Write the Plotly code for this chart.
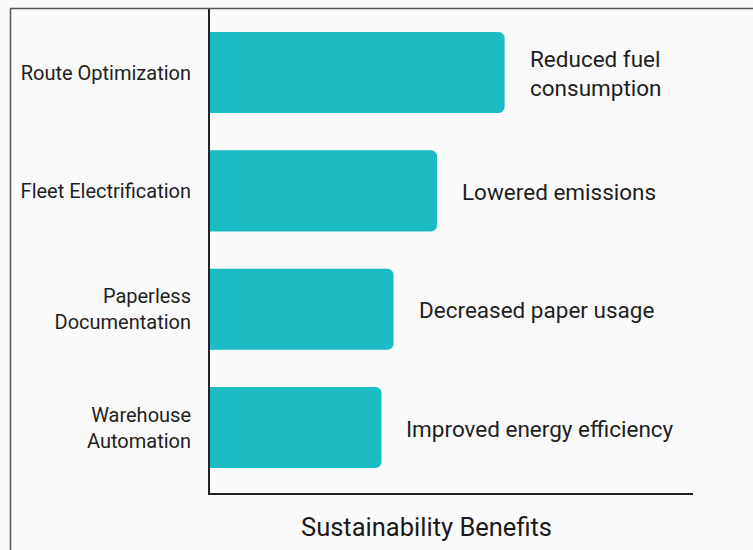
import plotly.graph_objects as go

categories = ["Route Optimization", "Fleet Electrification", "Paperless<br>Documentation", "Warehouse<br>Automation"]
values = [61, 47, 38, 35.5]
benefits = ["Reduced fuel<br>consumption", "Lowered emissions", "Decreased paper usage", "Improved energy efficiency"]
x_title = "Sustainability Benefits"

W, H = 753, 550
L, R, T, B = 210, 60, 9, 57
pw, ph = W - L - R, H - T - B

def px(x):
    return (x - L) / pw

def py(y):
    return (H - B - y) / ph

fig = go.Figure()
fig.add_trace(go.Bar(
    x=values, y=categories, orientation="h",
    marker=dict(color="#1BBCC3", cornerradius=6, line=dict(width=0)),
    width=0.685, hoverinfo="skip", showlegend=False,
))

for v, c, t in zip(values, categories, benefits):
    fig.add_annotation(x=v, y=c, text=t, xanchor="left", yanchor="middle",
                       xshift=23, yshift=-1, align="left", showarrow=False,
                       font=dict(size=22.5, color="#1e1e1e"))

fig.add_annotation(x=px(426), y=py(527), xref="paper", yref="paper", text=x_title,
                   showarrow=False, xanchor="center", yanchor="middle",
                   font=dict(size=25.5, color="#1a1a1a"))

# frame lines
fig.add_shape(type="line", xref="paper", yref="paper", x0=px(10), x1=px(760), y0=py(8.5), y1=py(8.5),
              line=dict(color="#555555", width=1.5))
fig.add_shape(type="line", xref="paper", yref="paper", x0=px(10.5), x1=px(10.5), y0=py(8.5), y1=py(560),
              line=dict(color="#555555", width=1.5))

fig.update_layout(
    width=W, height=H,
    margin=dict(l=L, r=R, t=T, b=B),
    paper_bgcolor="#FAFAFA", plot_bgcolor="#FAFAFA",
    font=dict(family="Roboto, 'Noto Sans', sans-serif", color="#222222"),
    bargap=0.3,
)
fig.update_xaxes(range=[0, 100], showgrid=False, zeroline=False, showticklabels=False,
                 showline=True, linecolor="#222222", linewidth=2, ticks="")
fig.update_yaxes(categoryorder="array", categoryarray=categories, range=[3.553, -0.537],
                 showgrid=False, zeroline=False, showline=True, linecolor="#222222", linewidth=2,
                 ticks="", ticklabelstandoff=13, tickfont=dict(size=20, color="#1e1e1e"))

fig.write_html("out.html", config={"displayModeBar": False},
               post_script="document.body.style.margin='0';document.body.style.overflow='hidden';")
